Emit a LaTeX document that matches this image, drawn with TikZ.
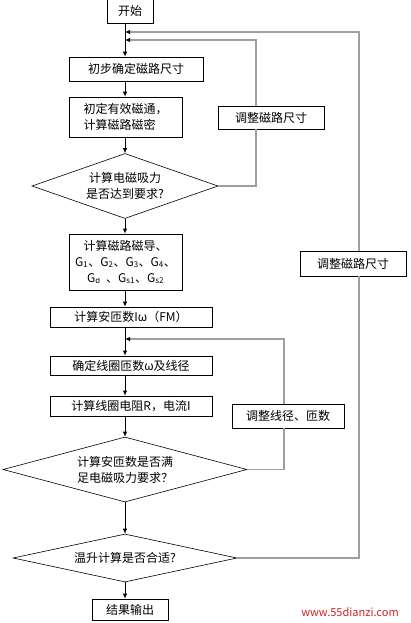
\documentclass[tikz,border=0pt]{standalone}
\usepackage{fontspec}
\setmainfont{Noto Sans CJK SC}
\usetikzlibrary{arrows.meta, shapes.geometric}
\definecolor{wmred}{RGB}{205,35,35}

\begin{document}
\begin{tikzpicture}[
  x=1pt, y=-1pt,
  box/.style={
    rectangle, draw=black, line width=0.8pt, fill=white,
    font=\fontsize{12}{16}\selectfont, align=center, inner sep=0pt
  },
  dec/.style={
    diamond, draw=black, line width=0.6pt, fill=white, inner sep=0pt,
    label={[font=\fontsize{12}{16}\selectfont, align=center]center:#1}
  },
  arr/.style={
    -{Latex[length=5pt, width=4.5pt]},
    line width=0.8pt, color=black
  },
  back/.style={
    line width=1.2pt, color=gray!75
  },
  backarr/.style={
    back, -{Latex[length=5pt, width=4.5pt, color=black]}
  }
]
\useasboundingbox (0,0) rectangle (411,623);

%% ── Eje principal y puntos de unión ─────────────────────────────────────
\coordinate (axis) at (125,0);
\coordinate (j2) at (125,32);
\coordinate (j1) at (125,40);
\coordinate (j3) at (125,339);

%% ── Flujo principal ─────────────────────────────────────────────────────
\node[box, minimum width=46pt, minimum height=25pt] (start) at (130,10.5) {开始};
\node[box, minimum width=134pt, minimum height=24pt] (b1) at (136,69) {初步确定磁路尺寸};
\node[box, minimum width=113pt, minimum height=40pt, align=left] (b2) at (125.5,117)
  {初定有效磁通，\\计算磁路磁密};
\node[dec={计算电磁吸力\\是否达到要求?}, minimum width=186pt, minimum height=65pt] (d1)
  at (125,186) {};
\node[box, minimum width=113pt, minimum height=56pt] (b3) at (125.5,262)
  {计算磁路磁导、\\
   G\textsubscript{1}、G\textsubscript{2}、G\textsubscript{3}、G\textsubscript{4}、\\
   G\textsubscript{σ}\ \ 、G\textsubscript{s1}、G\textsubscript{s2}};
\node[box, minimum width=162pt, minimum height=20pt] (b4) at (131,317) {计算安匝数Iω（FM）};
\node[box, minimum width=162pt, minimum height=19pt] (b5) at (131,365.5) {确定线圈匝数ω及线径};
\node[box, minimum width=162pt, minimum height=20pt] (b6) at (131,406) {计算线圈电阻R，电流I};
\node[dec={计算安匝数是否满\\足电磁吸力要求？}, minimum width=244pt, minimum height=65pt] (d2)
  at (125,469.5) {};
\node[dec={温升计算是否合适?}, minimum width=224pt, minimum height=48pt] (d3)
  at (125,558) {};
\node[box, minimum width=76pt, minimum height=21pt] (out) at (130,609.5) {结果输出};

%% ── Nodos de ajuste ─────────────────────────────────────────────────────
\node[box, minimum width=106pt, minimum height=23pt] (adj1) at (271,117.5) {调整磁路尺寸};
\node[box, minimum width=106pt, minimum height=25pt] (adj2) at (353,263.5) {调整磁路尺寸};
\node[box, minimum width=112pt, minimum height=24pt] (adj3) at (288,416) {调整线径、匝数};

%% ── Flechas del eje ─────────────────────────────────────────────────────
\draw[arr] (start.south -| axis) -- (b1.north -| axis);
\draw[arr] (b1.south -| axis) -- (b2.north -| axis);
\draw[arr] (b2.south -| axis) -- (d1.north);
\draw[arr] (d1.south) -- (b3.north -| axis);
\draw[arr] (b3.south -| axis) -- (b4.north -| axis);
\draw[arr] (b4.south -| axis) -- (b5.north -| axis);
\draw[arr] (b5.south -| axis) -- (b6.north -| axis);
\draw[arr] (b6.south -| axis) -- (d2.north);
\draw[arr] (d2.south) -- (d3.north);
\draw[arr] (d3.south) -- (out.north -| axis);

%% ── Lazos de retorno ────────────────────────────────────────────────────
\draw[back] (d1.east) -| ([xshift=-15pt]adj1.south);
\draw[backarr] ([xshift=-15pt]adj1.north) |- (j1);

\draw[back] (d3.east) -| ([xshift=6pt]adj2.south);
\draw[backarr] ([xshift=6pt]adj2.north) |- (j2);

\draw[back] (d2.east) -| ([xshift=-4pt]adj3.south);
\draw[backarr] ([xshift=-4pt]adj3.north) |- (j3);

%% ── Marca de agua ───────────────────────────────────────────────────────
\node[font=\fontsize{11}{13}\selectfont, text=wmred, inner sep=0pt] (wm) at (350,612) {www.55dianzi.com};

\end{tikzpicture}
\end{document}
